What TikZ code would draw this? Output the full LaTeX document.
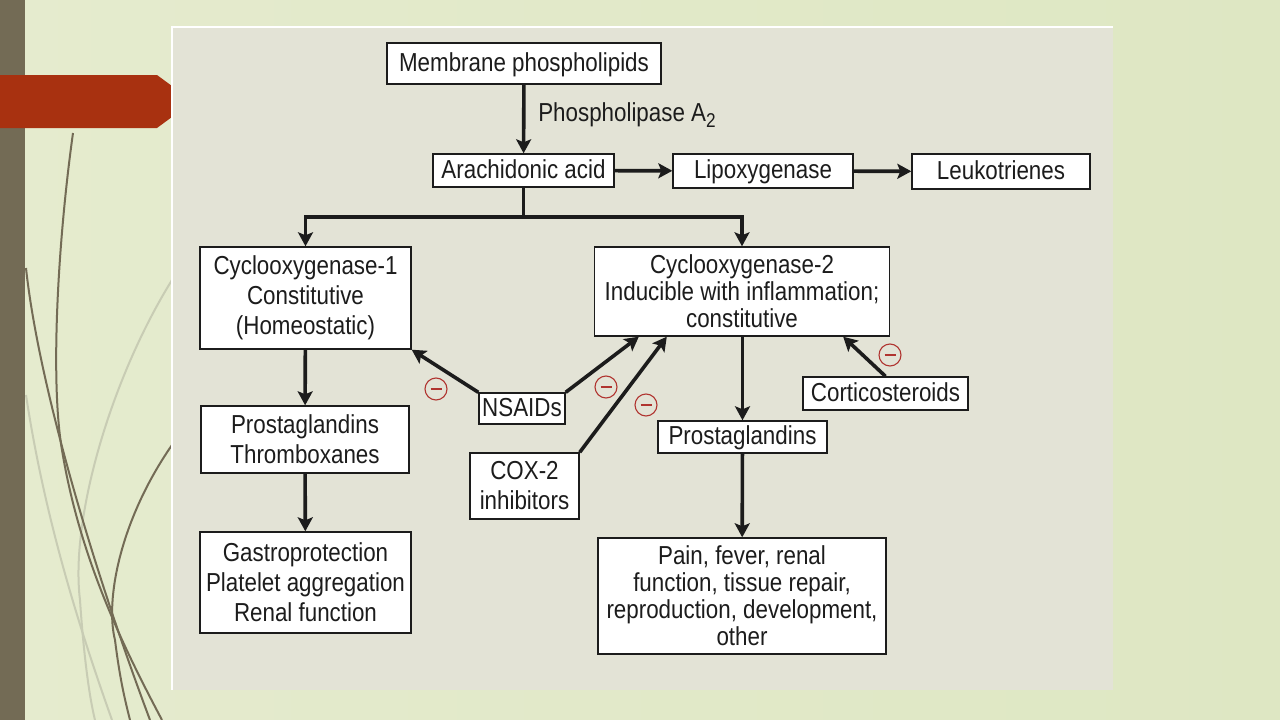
\documentclass[tikz,border=0pt]{standalone}
\usepackage{fontspec}
\setmainfont[FakeStretch=0.86]{Liberation Sans}
\usetikzlibrary{arrows.meta}
\definecolor{bgleft}{RGB}{229,235,206}
\definecolor{bgright}{RGB}{222,231,195}
\definecolor{barbrown}{RGB}{115,107,85}
\definecolor{tabred}{RGB}{168,49,16}
\definecolor{panel}{RGB}{227,227,214}
\definecolor{faintline}{RGB}{200,204,180}
\definecolor{minusred}{RGB}{176,52,48}
\definecolor{ink}{RGB}{28,28,28}

\tikzset{
  box/.style={draw=ink, fill=white, line width=1.4pt, inner sep=0pt, align=center,
    text=ink, font=\fontsize{26}{30}\selectfont},
  oneline/.style={text height=19.5pt, text depth=4.5pt},
  tight/.style={font=\fontsize{26}{27}\selectfont},
  link/.style={draw=ink, line width=3.6pt},
  flow/.style={link, -{Stealth[length=14pt,width=15pt,inset=3pt]}},
  minus/.style={circle, draw=minusred, line width=1.1pt, minimum size=22pt, inner sep=0pt},
  swirl/.style={draw=barbrown, line width=2pt},
  faint/.style={draw=faintline, line width=2pt}
}

\begin{document}
\begin{tikzpicture}[x=1pt,y=-1pt]
  \useasboundingbox (0,0) rectangle (1280,720);
  % slide background
  \fill[left color=bgleft, right color=bgright] (0,0) rectangle (1280,720);
  \fill[barbrown] (0,0) rectangle (25,720);
  \draw[faint] (172,280) .. controls (110,380) and (70,520) .. (80,600) .. controls (84,660) and (90,700) .. (95,720);
  \draw[faint] (26,395) .. controls (45,520) and (80,630) .. (112,720);
  \draw[swirl] (73,133) .. controls (58,240) and (50,380) .. (62,450) .. controls (80,560) and (125,650) .. (162,720);
  \draw[swirl] (26,268) .. controls (38,380) and (90,560) .. (150,720);
  \draw[swirl] (172,445) .. controls (120,520) and (105,600) .. (115,640) .. controls (120,680) and (125,700) .. (130,720);
  \fill[tabred] (0,75) -- (157,75) -- (193,101.5) -- (157,128) -- (0,128) -- cycle;
  % panel
  \fill[panel] (172,27) rectangle (1113,690);
  \draw[white, line width=1.5pt] (172,690) -- (172,27) -- (1113,27);

  % boxes
  \node[box, oneline, minimum width=274pt, minimum height=41pt] (membrane) at (524,63.5) {Membrane phospholipids};
  \node[text=ink, font=\fontsize{26}{30}\selectfont] (pla2) at (627,115) {Phospholipase A\raisebox{-6pt}{\fontsize{20}{20}\selectfont 2}};
  \node[box, oneline, minimum width=181pt, minimum height=33pt] (arach) at (523.5,170.5) {Arachidonic acid};
  \node[box, oneline, minimum width=180pt, minimum height=34pt] (lipox) at (763,171) {Lipoxygenase};
  \node[box, oneline, minimum width=178pt, minimum height=35pt] (leuko) at (1001,171.5) {Leukotrienes};
  \node[box, minimum width=211pt, minimum height=102pt] (cox1) at (305.5,298) {Cyclooxygenase-1\\Constitutive\\(Homeostatic)};
  \node[box, tight, minimum width=295pt, minimum height=89pt] (cox2) at (742,291.5) {Cyclooxygenase-2\\Inducible with inflammation;\\constitutive};
  \node[box, minimum width=208pt, minimum height=67pt] (pgtx) at (305,439.5) {Prostaglandins\\Thromboxanes};
  \node[box, minimum width=211pt, minimum height=101pt] (gastro) at (305.5,582.5) {Gastroprotection\\Platelet aggregation\\Renal function};
  \node[box, oneline, minimum width=86pt, minimum height=31pt] (nsaids) at (522,408.5) {NSAIDs};
  \node[box, minimum width=109pt, minimum height=66pt] (coxinh) at (524.5,486) {COX-2\\inhibitors};
  \node[box, oneline, minimum width=169pt, minimum height=32pt] (pg) at (742.5,437) {Prostaglandins};
  \node[box, oneline, minimum width=165pt, minimum height=33pt] (cortico) at (885.5,393.5) {Corticosteroids};
  \node[box, tight, minimum width=288pt, minimum height=116pt] (pain) at (742,596) {Pain, fever, renal\\function, tissue repair,\\reproduction, development,\\other};

  % arrows
  \draw[flow] (membrane) -- (arach);
  \draw[flow] (arach) -- (lipox);
  \draw[flow] (lipox) -- (leuko);
  \coordinate (fork) at (523.5,217);
  \draw[link] (arach) -- (fork);
  \draw[flow] (fork) -| (cox1);
  \draw[flow] (fork) -| (cox2);
  \draw[flow] (cox1) -- (pgtx);
  \draw[flow] (pgtx) -- (gastro);
  \draw[flow] (cox2.south -| pg) -- (pg);
  \draw[flow] (pg) -- (pain);
  \draw[flow] (nsaids.north west) -- (cox1.south east);
  \draw[flow] (nsaids.north east) -- ([xshift=45pt]cox2.south west);
  \draw[flow] (coxinh.north east) -- ([xshift=73pt]cox2.south west);
  \draw[flow] (cortico.north) -- ([xshift=-47pt]cox2.south east);

  % inhibition marks
  \node[minus] (m1) at (436,389) {\color{minusred}\rule{11pt}{1.2pt}};
  \node[minus] (m2) at (606,387) {\color{minusred}\rule{11pt}{1.2pt}};
  \node[minus] (m3) at (646,405) {\color{minusred}\rule{11pt}{1.2pt}};
  \node[minus] (m4) at (890,355) {\color{minusred}\rule{11pt}{1.2pt}};
\end{tikzpicture}
\end{document}
